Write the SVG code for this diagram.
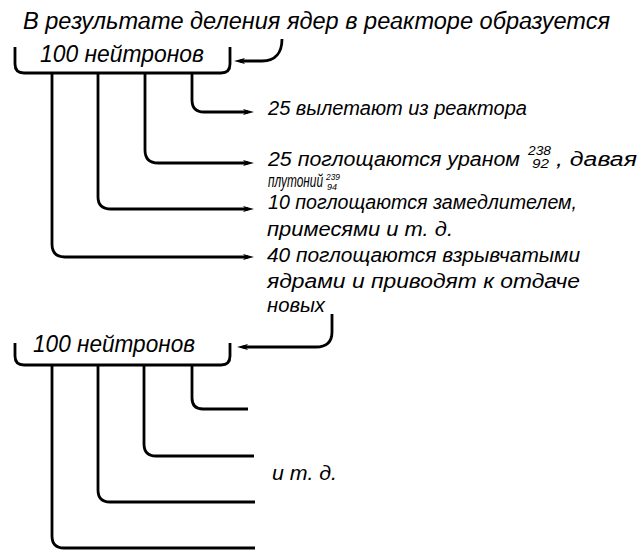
<svg xmlns="http://www.w3.org/2000/svg" width="640" height="550" viewBox="0 0 640 550">
<style>
.t{font-family:"Liberation Sans","Noto Sans",sans-serif;font-style:italic;fill:#000}
.h{font-size:23px}
.m{font-size:20px}
.p{font-size:18px}
.s{font-size:12px}
.x{font-size:9px}
.c{fill:none;stroke:#000;stroke-width:2.8;stroke-linecap:butt;stroke-linejoin:round}
.a{marker-end:url(#ah)}
</style>
<defs>
<marker id="ah" markerUnits="userSpaceOnUse" markerWidth="14" markerHeight="10" refX="5" refY="4" orient="auto" viewBox="0 0 14 10">
<path d="M0,1 L11,4 L0,7 L2.5,4 Z" fill="#000"/>
</marker>
</defs>
<rect width="640" height="550" fill="#fff"/>
<g id="title">
<text class="t h" x="23" y="29" textLength="587" lengthAdjust="spacingAndGlyphs">В результате деления ядер в реакторе образуется</text>
</g>
<g id="node-100a">
<path class="c" d="M15,47 V64 Q15,73 24,73 H221 Q230,73 230,64 V47"/>
<text class="t h" x="40" y="62" textLength="164" lengthAdjust="spacingAndGlyphs">100 нейтронов</text>
</g>
<g id="node-escape">
<text class="t m" x="268" y="115" textLength="259" lengthAdjust="spacingAndGlyphs">25 вылетают из реактора</text>
</g>
<g id="node-uranium">
<text class="t m" x="268" y="166" textLength="252" lengthAdjust="spacingAndGlyphs">25 поглощаются ураном</text>
<text class="t s" x="528" y="155" textLength="23" lengthAdjust="spacingAndGlyphs">238</text>
<text class="t s" x="532" y="168" textLength="17" lengthAdjust="spacingAndGlyphs">92</text>
<text class="t m" x="556" y="166" textLength="81" lengthAdjust="spacingAndGlyphs">, давая</text>
<text class="t p" x="268" y="187" textLength="55" lengthAdjust="spacingAndGlyphs">плутоний</text>
<text class="t x" x="326" y="180" textLength="14" lengthAdjust="spacingAndGlyphs">239</text>
<text class="t x" x="327" y="190" textLength="10" lengthAdjust="spacingAndGlyphs">94</text>
</g>
<g id="node-moderator">
<text class="t m" x="268" y="209" textLength="309" lengthAdjust="spacingAndGlyphs">10 поглощаются замедлителем,</text>
<text class="t m" x="267" y="236" textLength="186" lengthAdjust="spacingAndGlyphs">примесями и т. д.</text>
</g>
<g id="node-fission">
<text class="t m" x="267" y="262" textLength="313" lengthAdjust="spacingAndGlyphs">40 поглощаются взрывчатыми</text>
<text class="t m" x="267" y="288" textLength="313" lengthAdjust="spacingAndGlyphs">ядрами и приводят к отдаче</text>
<text class="t m" x="267" y="312" textLength="58" lengthAdjust="spacingAndGlyphs">новых</text>
</g>
<g id="node-100b">
<path class="c" d="M15,343 V356 Q15,365 24,365 H221 Q230,365 230,356 V343"/>
<text class="t h" x="33" y="352" textLength="162" lengthAdjust="spacingAndGlyphs">100 нейтронов</text>
</g>
<g id="node-etc">
<text class="t m" x="272" y="480" textLength="65" lengthAdjust="spacingAndGlyphs">и т. д.</text>
</g>
<g id="connectors">
<path class="c a" d="M282,39 C282,52 276,61 262,61 H240"/>
<path class="c a" d="M192,73 V100 Q192,112 204,112 H248"/>
<path class="c a" d="M145,73 V150 Q145,163 158,163 H248"/>
<path class="c a" d="M98,73 V197 Q98,209 111,209 H248"/>
<path class="c a" d="M52,73 V244 Q52,257 65,257 H248"/>
<path class="c a" d="M332,314 V332 Q332,347 316,347 H243"/>
<path class="c" d="M192,365 V398 Q192,409 203,409 H248"/>
<path class="c" d="M144,365 V444 Q144,456 156,456 H254"/>
<path class="c" d="M98,365 V490 Q98,502 110,502 H255"/>
<path class="c" d="M52,365 V536 Q52,548 64,548 H255"/>
</g>
</svg>
